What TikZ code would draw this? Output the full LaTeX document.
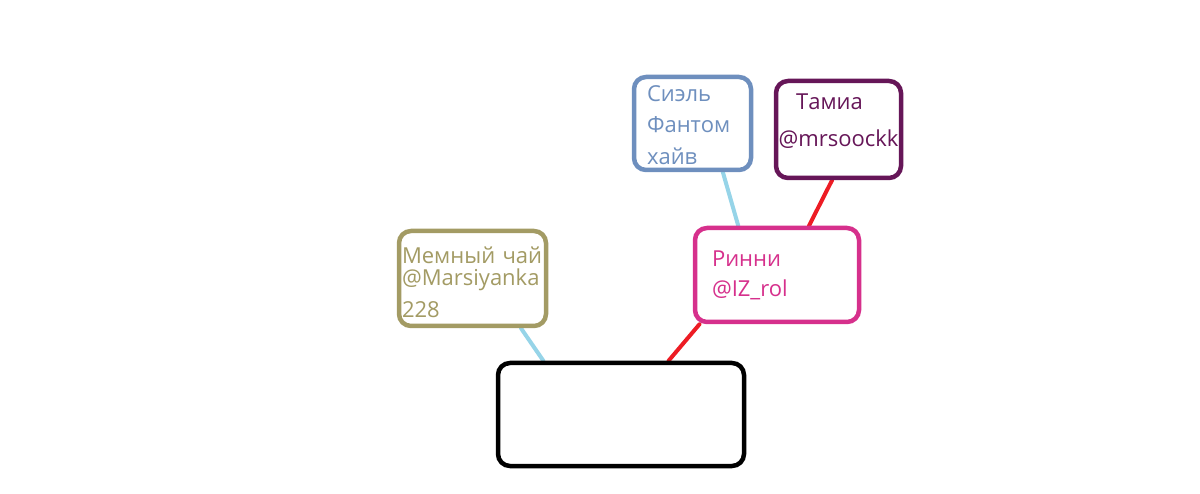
\documentclass[tikz,border=0pt]{standalone}
\usepackage{fontspec}
\setmainfont{Open Sans}
\usetikzlibrary{calc,backgrounds}
\definecolor{olivec}{RGB}{163,155,100}
\definecolor{rosec}{RGB}{214,48,140}
\definecolor{bleuc}{RGB}{110,143,190}
\definecolor{violetc}{RGB}{102,22,88}
\definecolor{cielc}{RGB}{150,212,232}
\definecolor{rougec}{RGB}{237,28,36}
% hauteur de la premiere ligne, profondeur de la derniere
\newcommand\haut[1]{\rule{0pt}{#1}}
\newcommand\bas[1]{\rule[-#1]{0pt}{0pt}}
\tikzset{
  box/.style={draw=#1, text=#1, line width=4.5pt, rounded corners=12pt,
    fill=white, inner ysep=0pt, font=\fontsize{22}{31}\selectfont},
  link/.style={draw=#1, line width=4pt, line cap=round}
}
\begin{document}
\begin{tikzpicture}[x=1pt,y=-1pt]
  \useasboundingbox (0,0) rectangle (1200,494);
  % boites
  \node[box=black, minimum width=246pt, minimum height=103pt] (centre) at (621,414.5) {};
  \node[box=olivec, minimum width=147pt, minimum height=95pt, inner xsep=3pt,
        text width=141pt, align=left] (memny) at (472.5,278.5)
        {\haut{30pt}\mbox{Мемный чай}\\[-9pt]@Marsiyanka\\[1pt]228\bas{6pt}};
  \node[box=rosec, minimum width=164pt, minimum height=94pt, inner xsep=17pt,
        text width=130pt, align=left] (rinni) at (777,275)
        {\haut{24pt}Ринни\\[-1pt]@IZ\_rol\bas{10pt}};
  \node[box=bleuc, minimum width=117pt, minimum height=93pt, inner xsep=13pt,
        text width=91pt, align=left] (siel) at (692.5,123.5)
        {\haut{20pt}Сиэль\\Фантом\\[1pt]хайв};
  \node[box=violetc, minimum width=125pt, minimum height=97pt, inner xsep=2pt,
        text width=121pt, align=center] (tamia) at (838.5,129.5)
        {\haut{18pt}\mbox{Тамиа\kern18pt}\\[6pt]@mrsoockk\bas{20pt}};
  % liens
  \begin{scope}[on background layer]
    \draw[link=cielc] ($(memny.south west)!.82!(memny.south east)$)
                   -- ($(centre.north west)!.19!(centre.north east)$);
    \draw[link=rougec] ($(rinni.south west)!.04!(rinni.south east)$)
                   -- ($(centre.north west)!.69!(centre.north east)$);
    \draw[link=cielc] ($(siel.south west)!.75!(siel.south east)$)
                   -- ($(rinni.north west)!.27!(rinni.north east)$);
    \draw[link=rougec] ($(tamia.south west)!.45!(tamia.south east)$)
                   -- ($(rinni.north west)!.69!(rinni.north east)$);
  \end{scope}
\end{tikzpicture}
\end{document}
